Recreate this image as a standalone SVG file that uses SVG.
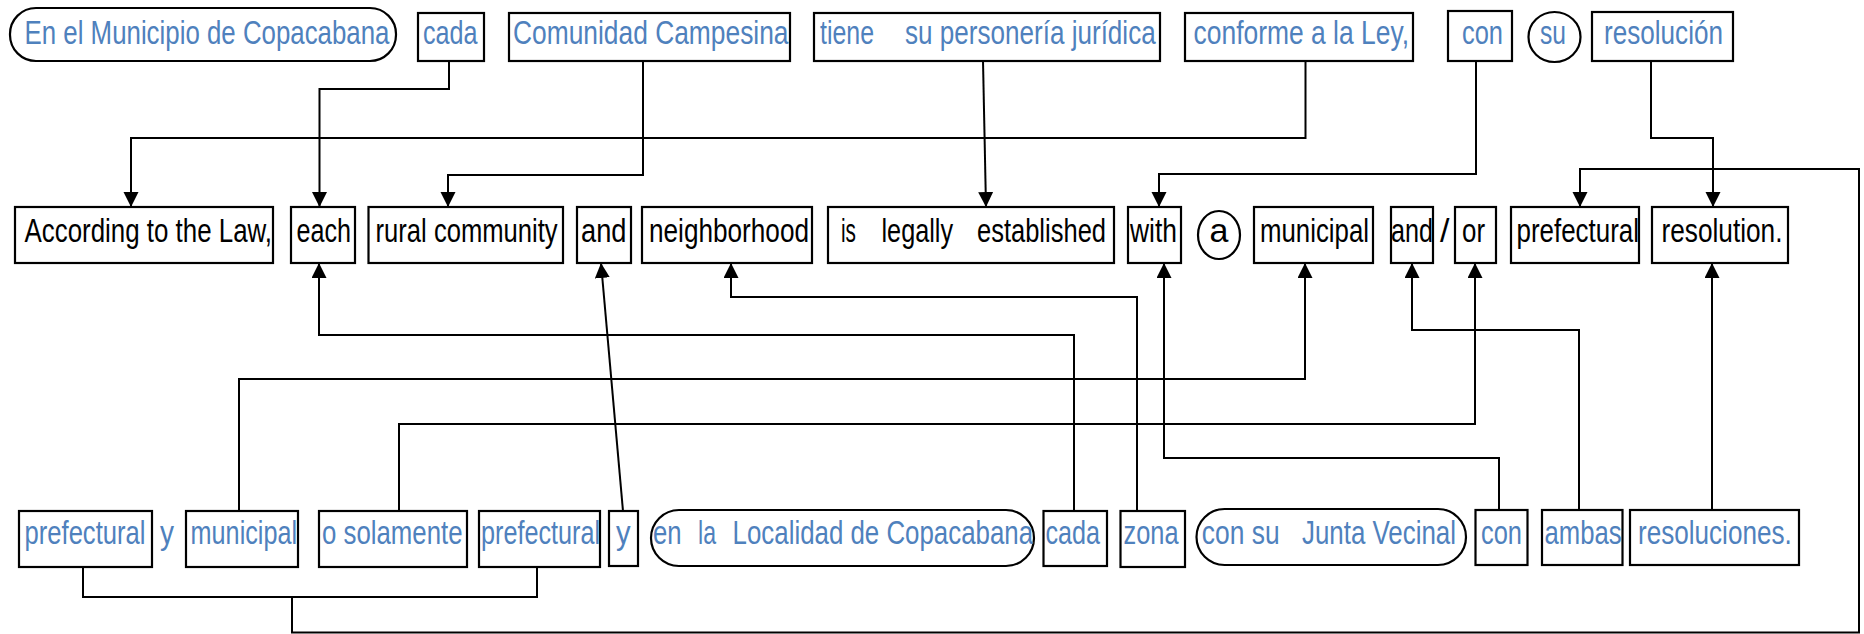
<svg xmlns="http://www.w3.org/2000/svg" width="1864" height="634" viewBox="0 0 1864 634">
  <style>
    .box { fill: #ffffff; stroke: #000000; stroke-width: 2.2; }
    .es { font-family: "Liberation Sans Narrow", "Liberation Sans", Arial, sans-serif; font-size: 34px; fill: #4f81bd; }
    .en { font-family: "Liberation Sans Narrow", "Liberation Sans", Arial, sans-serif; font-size: 34px; fill: #000000; }
    .wire { fill: none; stroke: #000000; stroke-width: 2; }
    .arrow { marker-end: url(#head); }
  </style>
  <defs>
    <marker id="head" markerUnits="userSpaceOnUse" markerWidth="16" markerHeight="16" refX="15" refY="7.5" orient="auto">
      <path d="M0,0 L15,7.5 L0,15 z" fill="#000000"/>
    </marker>
  </defs>
  <rect width="1864" height="634" fill="#ffffff"/>

  <!-- Spanish sentence, first line -->
  <g id="es-municipio">
    <rect class="box" x="10" y="8" width="386" height="53" rx="26"/>
    <text class="es" x="24.5" y="44" textLength="365" lengthAdjust="spacingAndGlyphs">En el Municipio de Copacabana</text>
  </g>
  <g id="es-cada-1">
    <rect class="box" x="418" y="13" width="66" height="48"/>
    <text class="es" x="423" y="44" textLength="54.6" lengthAdjust="spacingAndGlyphs">cada</text>
  </g>
  <g id="es-comunidad">
    <rect class="box" x="509" y="13" width="281" height="48"/>
    <text class="es" x="513" y="44" textLength="275.5" lengthAdjust="spacingAndGlyphs">Comunidad Campesina</text>
  </g>
  <g id="es-tiene">
    <rect class="box" x="814" y="13" width="346" height="48"/>
    <text class="es" x="820" y="44" textLength="54" lengthAdjust="spacingAndGlyphs">tiene</text>
    <text class="es" x="905" y="44" textLength="250.7" lengthAdjust="spacingAndGlyphs">su personería jurídica</text>
  </g>
  <g id="es-conforme">
    <rect class="box" x="1185" y="13" width="228" height="48"/>
    <text class="es" x="1193.6" y="44" textLength="215.4" lengthAdjust="spacingAndGlyphs">conforme a la Ley,</text>
  </g>
  <g id="es-con-1">
    <rect class="box" x="1448" y="11" width="64" height="50"/>
    <text class="es" x="1462" y="44" textLength="41" lengthAdjust="spacingAndGlyphs">con</text>
  </g>
  <g id="es-su">
    <ellipse class="box" cx="1554.5" cy="37" rx="26" ry="25"/>
    <text class="es" x="1540" y="44" textLength="26" lengthAdjust="spacingAndGlyphs">su</text>
  </g>
  <g id="es-resolucion">
    <rect class="box" x="1592" y="12" width="141" height="49"/>
    <text class="es" x="1604" y="44" textLength="119" lengthAdjust="spacingAndGlyphs">resolución</text>
  </g>

  <!-- English sentence -->
  <g id="en-according">
    <rect class="box" x="15" y="207" width="258" height="56"/>
    <text class="en" x="24.5" y="242" textLength="247.5" lengthAdjust="spacingAndGlyphs">According to the Law,</text>
  </g>
  <g id="en-each">
    <rect class="box" x="291" y="207" width="64" height="56"/>
    <text class="en" x="296.5" y="242" textLength="54.5" lengthAdjust="spacingAndGlyphs">each</text>
  </g>
  <g id="en-rural">
    <rect class="box" x="368.5" y="207" width="194.5" height="56"/>
    <text class="en" x="375.6" y="242" textLength="182" lengthAdjust="spacingAndGlyphs">rural community</text>
  </g>
  <g id="en-and-1">
    <rect class="box" x="577" y="207" width="54" height="56"/>
    <text class="en" x="581" y="242" textLength="45.5" lengthAdjust="spacingAndGlyphs">and</text>
  </g>
  <g id="en-neighborhood">
    <rect class="box" x="642" y="207" width="170" height="56"/>
    <text class="en" x="649" y="242" textLength="160" lengthAdjust="spacingAndGlyphs">neighborhood</text>
  </g>
  <g id="en-established">
    <rect class="box" x="828" y="207" width="286" height="56"/>
    <text class="en" x="841" y="242" textLength="15" lengthAdjust="spacingAndGlyphs">is</text>
    <text class="en" x="881.5" y="242" textLength="71.5" lengthAdjust="spacingAndGlyphs">legally</text>
    <text class="en" x="977" y="242" textLength="129" lengthAdjust="spacingAndGlyphs">established</text>
  </g>
  <g id="en-with">
    <rect class="box" x="1128" y="207" width="53" height="56"/>
    <text class="en" x="1130" y="242" textLength="47" lengthAdjust="spacingAndGlyphs">with</text>
  </g>
  <g id="en-a">
    <ellipse class="box" cx="1219" cy="235" rx="21" ry="24"/>
    <text class="en" x="1219" y="242" text-anchor="middle">a</text>
  </g>
  <g id="en-municipal">
    <rect class="box" x="1254" y="207" width="119" height="56"/>
    <text class="en" x="1260" y="242" textLength="109" lengthAdjust="spacingAndGlyphs">municipal</text>
  </g>
  <g id="en-and-2">
    <rect class="box" x="1391" y="207" width="42" height="56"/>
    <text class="en" x="1391" y="242" textLength="42" lengthAdjust="spacingAndGlyphs">and</text>
  </g>
  <g id="en-slash">
    <text class="en" x="1440" y="242">/</text>
  </g>
  <g id="en-or">
    <rect class="box" x="1455" y="207" width="41" height="56"/>
    <text class="en" x="1462" y="242" textLength="23" lengthAdjust="spacingAndGlyphs">or</text>
  </g>
  <g id="en-prefectural">
    <rect class="box" x="1511" y="207" width="128" height="56"/>
    <text class="en" x="1516.5" y="242" textLength="122.5" lengthAdjust="spacingAndGlyphs">prefectural</text>
  </g>
  <g id="en-resolution">
    <rect class="box" x="1652" y="207" width="136" height="56"/>
    <text class="en" x="1661.5" y="242" textLength="121" lengthAdjust="spacingAndGlyphs">resolution.</text>
  </g>

  <!-- Spanish sentence, second line -->
  <g id="es-prefectural-1">
    <rect class="box" x="19" y="511" width="133" height="56"/>
    <text class="es" x="24.5" y="544" textLength="121" lengthAdjust="spacingAndGlyphs">prefectural</text>
  </g>
  <g id="es-y-1">
    <text class="es" x="160" y="544" textLength="14" lengthAdjust="spacingAndGlyphs">y</text>
  </g>
  <g id="es-municipal">
    <rect class="box" x="186" y="511" width="112" height="56"/>
    <text class="es" x="190.6" y="544" textLength="106.5" lengthAdjust="spacingAndGlyphs">municipal</text>
  </g>
  <g id="es-solamente">
    <rect class="box" x="319" y="511" width="148" height="56"/>
    <text class="es" x="322" y="544" textLength="140.6" lengthAdjust="spacingAndGlyphs">o solamente</text>
  </g>
  <g id="es-prefectural-2">
    <rect class="box" x="479" y="511" width="121" height="56"/>
    <text class="es" x="481" y="544" textLength="119" lengthAdjust="spacingAndGlyphs">prefectural</text>
  </g>
  <g id="es-y-2">
    <rect class="box" x="609" y="511" width="29" height="55"/>
    <text class="es" x="616" y="544" textLength="14.6" lengthAdjust="spacingAndGlyphs">y</text>
  </g>
  <g id="es-localidad">
    <rect class="box" x="651" y="510" width="383" height="56" rx="28"/>
    <text class="es" x="653" y="544" textLength="28.6" lengthAdjust="spacingAndGlyphs">en</text>
    <text class="es" x="698" y="544" textLength="18" lengthAdjust="spacingAndGlyphs">la</text>
    <text class="es" x="732.6" y="544" textLength="300.5" lengthAdjust="spacingAndGlyphs">Localidad de Copacabana</text>
  </g>
  <g id="es-cada-2">
    <rect class="box" x="1043.5" y="511" width="63.5" height="55"/>
    <text class="es" x="1045.5" y="544" textLength="54.5" lengthAdjust="spacingAndGlyphs">cada</text>
  </g>
  <g id="es-zona">
    <rect class="box" x="1120.5" y="511" width="64.5" height="56"/>
    <text class="es" x="1123.5" y="544" textLength="55" lengthAdjust="spacingAndGlyphs">zona</text>
  </g>
  <g id="es-junta">
    <rect class="box" x="1196.5" y="509" width="269.5" height="56" rx="28"/>
    <text class="es" x="1201.8" y="544" textLength="77.8" lengthAdjust="spacingAndGlyphs">con su</text>
    <text class="es" x="1302" y="544" textLength="154" lengthAdjust="spacingAndGlyphs">Junta Vecinal</text>
  </g>
  <g id="es-con-2">
    <rect class="box" x="1475.5" y="510" width="52" height="55"/>
    <text class="es" x="1481" y="544" textLength="41" lengthAdjust="spacingAndGlyphs">con</text>
  </g>
  <g id="es-ambas">
    <rect class="box" x="1542" y="510" width="80.5" height="55"/>
    <text class="es" x="1544.5" y="544" textLength="77" lengthAdjust="spacingAndGlyphs">ambas</text>
  </g>
  <g id="es-resoluciones">
    <rect class="box" x="1630" y="510" width="169" height="55"/>
    <text class="es" x="1638" y="544" textLength="153.7" lengthAdjust="spacingAndGlyphs">resoluciones.</text>
  </g>

  <!-- Word alignment links -->
  <g id="links">
    <path class="wire arrow" d="M449,61 V89 H319.5 V207"/>
    <path class="wire arrow" d="M643,61 V175 H448 V207"/>
    <path class="wire arrow" d="M983,61 L986,207"/>
    <path class="wire arrow" d="M1305.5,61 V138 H131 V207"/>
    <path class="wire arrow" d="M1476,61 V174 H1159 V207"/>
    <path class="wire arrow" d="M1651,61 V138 H1713 V207"/>

    <path class="wire arrow" d="M1074,511 V335 H319 V263"/>
    <path class="wire arrow" d="M1137,511 V297 H731 V263"/>
    <path class="wire arrow" d="M239,511 V379 H1305 V263"/>
    <path class="wire arrow" d="M399,511 V424 H1475 V263"/>
    <path class="wire arrow" d="M623,511 L601,263"/>
    <path class="wire arrow" d="M1499,510 V458 H1164 V263"/>
    <path class="wire arrow" d="M1579,510 V330 H1412 V263"/>
    <path class="wire arrow" d="M1712,510 V263"/>

    <path class="wire" d="M83,567 V597 H537 V567"/>
    <path class="wire arrow" d="M292,597 V632.5 H1859 V169 H1580 V207"/>
  </g>
</svg>
